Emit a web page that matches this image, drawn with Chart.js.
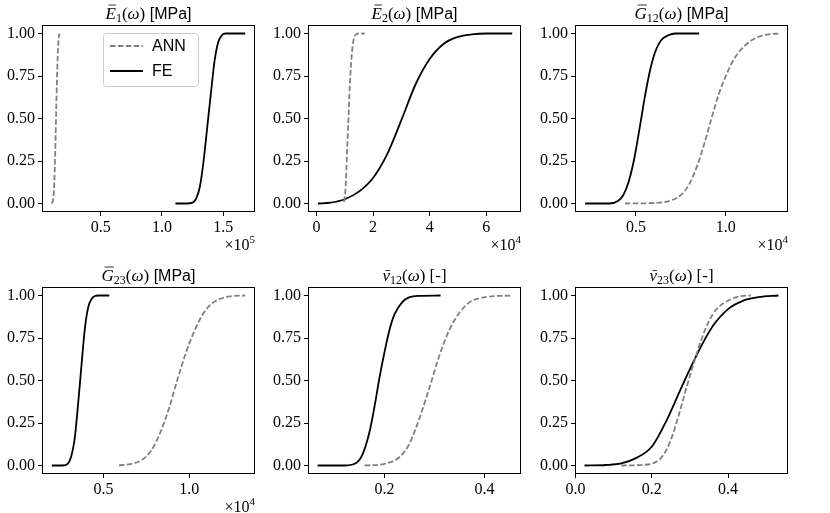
<!DOCTYPE html>
<html>
<head>
<meta charset="utf-8">
<script src="https://cdn.jsdelivr.net/npm/chart.js@4.4.1/dist/chart.umd.min.js"></script>
<style>
    html, body { margin: 0; padding: 0; background: #fff; overflow: hidden; }
    #wrap { position: relative; width: 830px; height: 513px; }
    #wrap canvas { position: absolute; }
</style>
</head>
<body>
<div id="wrap"></div>
<script>
// ---- data ----
const yTicks = [0, 0.25, 0.5, 0.75, 1.0];
const yTickLabels = ["0.00", "0.25", "0.50", "0.75", "1.00"];

// E1
const e1AnnX = [10000, 11000, 11800, 12400, 13000, 13600, 14200, 14800, 15500, 16200];
const e1AnnY = [0, 0.02, 0.08, 0.2, 0.36, 0.55, 0.72, 0.86, 0.96, 1.0];
const e1FeX = [111000, 120000, 125000, 128000, 131000, 134000, 137000, 140000, 143000, 146000, 149000, 152000, 168000];
const e1FeY = [0, 0, 0.005, 0.03, 0.10, 0.25, 0.45, 0.65, 0.84, 0.95, 0.99, 1.0, 1.0];
const e1Ticks = [50000, 100000, 150000];
const e1TickLabels = ["0.5", "1.0", "1.5"];

// E2
const e2AnnX = [9800, 10300, 10800, 11300, 11800, 12500, 13200, 14000, 15000, 17000];
const e2AnnY = [0.01, 0.10, 0.30, 0.50, 0.70, 0.88, 0.97, 0.995, 1.0, 1.0];
const e2FeX = [500, 5000, 10000, 15000, 20000, 25000, 30000, 35000, 40000, 45000, 50000, 55000, 60000, 69200];
const e2FeY = [0, 0.005, 0.025, 0.07, 0.15, 0.29, 0.49, 0.70, 0.85, 0.94, 0.98, 0.995, 1.0, 1.0];
const e2Ticks = [0, 20000, 40000, 60000];
const e2TickLabels = ["0", "2", "4", "6"];

// G12
const g12AnnX = [4390, 6000, 7000, 7600, 8000, 8400, 8800, 9200, 9600, 10000, 10400, 10800, 11300, 11800, 12400, 12940];
const g12AnnY = [0, 0.003, 0.02, 0.06, 0.12, 0.22, 0.35, 0.50, 0.64, 0.75, 0.84, 0.90, 0.95, 0.98, 0.995, 1.0];
const g12FeX = [2170, 3500, 4000, 4300, 4600, 4900, 5200, 5500, 5800, 6100, 6400, 6800, 7200, 8520];
const g12FeY = [0, 0, 0.015, 0.05, 0.13, 0.26, 0.44, 0.63, 0.79, 0.90, 0.96, 0.99, 1.0, 1.0];
const g12Ticks = [5000, 10000];
const g12TickLabels = ["0.5", "1.0"];

// G23
const g23AnnX = [5900, 6600, 7200, 7800, 8300, 8800, 9300, 9800, 10300, 10800, 11300, 11800, 12400, 13280];
const g23AnnY = [0, 0.01, 0.03, 0.09, 0.19, 0.33, 0.50, 0.66, 0.79, 0.89, 0.95, 0.98, 0.995, 1.0];
const g23FeX = [1970, 2600, 2900, 3100, 3300, 3500, 3700, 3900, 4100, 4300, 4500, 4700, 5330];
const g23FeY = [0, 0, 0.01, 0.05, 0.15, 0.35, 0.58, 0.80, 0.93, 0.98, 0.997, 1.0, 1.0];
const g23Ticks = [5000, 10000];
const g23TickLabels = ["0.5", "1.0"];

// nu12
const nu12AnnX = [0.16, 0.20, 0.23, 0.25, 0.27, 0.29, 0.31, 0.33, 0.35, 0.37, 0.40, 0.454];
const nu12AnnY = [0, 0.01, 0.05, 0.13, 0.28, 0.46, 0.65, 0.80, 0.90, 0.96, 0.99, 1.0];
const nu12FeX = [0.066, 0.12, 0.14, 0.155, 0.17, 0.18, 0.19, 0.20, 0.21, 0.22, 0.235, 0.25, 0.27, 0.312];
const nu12FeY = [0, 0, 0.01, 0.06, 0.20, 0.35, 0.52, 0.67, 0.80, 0.89, 0.96, 0.99, 0.998, 1.0];
const nu12Ticks = [0.2, 0.4];
const nu12TickLabels = ["0.2", "0.4"];

// nu23
const nu23AnnX = [0.12, 0.18, 0.21, 0.23, 0.25, 0.27, 0.29, 0.31, 0.33, 0.35, 0.37, 0.40, 0.43, 0.46];
const nu23AnnY = [0, 0.004, 0.02, 0.06, 0.15, 0.29, 0.45, 0.60, 0.74, 0.85, 0.92, 0.97, 0.995, 1.0];
const nu23FeX = [0.024, 0.08, 0.12, 0.16, 0.20, 0.24, 0.28, 0.32, 0.36, 0.40, 0.44, 0.48, 0.532];
const nu23FeY = [0, 0.003, 0.012, 0.045, 0.11, 0.27, 0.47, 0.66, 0.82, 0.92, 0.97, 0.99, 1.0];
const nu23Ticks = [0.0, 0.2, 0.4];
const nu23TickLabels = ["0.0", "0.2", "0.4"];

// ---- layout ----
const FRAME_W = 213;
const FRAME_H = 187;
const PAD_L = 42;
const PAD_T = 25;
const PAD_R = 30;
const PAD_B = 45;

const SERIF = '"Liberation Serif", "DejaVu Serif", serif';
const SANS = '"Liberation Sans", "DejaVu Sans", sans-serif';

const panels = [
    { left: 42, top: 25, xMin: 2000, xMax: 176000, ticks: e1Ticks, tickLabels: e1TickLabels, exp: "5",
      sym: "E", sub: "1", unit: "[MPa]", unitFont: "16px " + SANS,
      annX: e1AnnX, annY: e1AnnY, feX: e1FeX, feY: e1FeY, legend: true },
    { left: 308, top: 25, xMin: -3000, xMax: 72300, ticks: e2Ticks, tickLabels: e2TickLabels, exp: "4",
      sym: "E", sub: "2", unit: "[MPa]", unitFont: "16px " + SANS,
      annX: e2AnnX, annY: e2AnnY, feX: e2FeX, feY: e2FeY },
    { left: 575, top: 25, xMin: 1610, xMax: 13460, ticks: g12Ticks, tickLabels: g12TickLabels, exp: "4",
      sym: "G", sub: "12", unit: "[MPa]", unitFont: "16px " + SANS,
      annX: g12AnnX, annY: g12AnnY, feX: g12FeX, feY: g12FeY },
    { left: 42, top: 287, xMin: 1400, xMax: 13850, ticks: g23Ticks, tickLabels: g23TickLabels, exp: "4",
      sym: "G", sub: "23", unit: "[MPa]", unitFont: "16px " + SANS,
      annX: g23AnnX, annY: g23AnnY, feX: g23FeX, feY: g23FeY },
    { left: 308, top: 287, xMin: 0.0467, xMax: 0.473, ticks: nu12Ticks, tickLabels: nu12TickLabels, exp: null,
      sym: "ν", sub: "12", unit: "[-]", unitFont: "17px " + SERIF,
      annX: nu12AnnX, annY: nu12AnnY, feX: nu12FeX, feY: nu12FeY },
    { left: 575, top: 287, xMin: -0.001, xMax: 0.557, ticks: nu23Ticks, tickLabels: nu23TickLabels, exp: null,
      sym: "ν", sub: "23", unit: "[-]", unitFont: "17px " + SERIF,
      annX: nu23AnnX, annY: nu23AnnY, feX: nu23FeX, feY: nu23FeY },
];

function toPoints(xs, ys) {
    return xs.map((x, i) => ({ x: x, y: ys[i] }));
}

function drawTitle(ctx, p, cx, baseY) {
    const parts = [
        { t: p.sym, font: "italic 17px " + SERIF, bar: true },
        { t: p.sub, font: "12px " + SERIF, dy: 3 },
        { t: "(", font: "17px " + SERIF },
        { t: "ω", font: "italic 17px " + SERIF },
        { t: ")", font: "17px " + SERIF },
        { t: " " + p.unit, font: p.unitFont },
    ];
    let total = 0;
    for (const part of parts) {
        ctx.font = part.font;
        part.w = ctx.measureText(part.t).width;
        total += part.w;
    }
    let x = cx - total / 2;
    ctx.fillStyle = "#000";
    ctx.textBaseline = "alphabetic";
    ctx.textAlign = "left";
    for (const part of parts) {
        ctx.font = part.font;
        ctx.fillText(part.t, x, baseY + (part.dy || 0));
        if (part.bar) {
            const top = p.sym === "ν" ? baseY - 10.5 : baseY - 14;
            ctx.beginPath();
            ctx.lineWidth = 0.8;
            ctx.strokeStyle = "#000";
            ctx.moveTo(x + 3, top);
            ctx.lineTo(x + part.w, top);
            ctx.stroke();
        }
        x += part.w;
    }
}

function drawOffset(ctx, exp, right, baseY) {
    ctx.fillStyle = "#000";
    ctx.textBaseline = "alphabetic";
    ctx.textAlign = "right";
    ctx.font = "11px " + SERIF;
    const supW = ctx.measureText(exp).width;
    ctx.fillText(exp, right, baseY - 7);
    ctx.font = "16px " + SERIF;
    ctx.fillText("×10", right - supW, baseY);
}

function drawLegend(ctx, chart, a) {
    const x0 = a.left + 61;
    const y0 = a.top + 8;
    const w = 95;
    const h = 53;
    ctx.beginPath();
    ctx.roundRect(x0 + 0.5, y0 + 0.5, w, h, 3);
    ctx.fillStyle = "rgba(255,255,255,0.8)";
    ctx.fill();
    ctx.strokeStyle = "#cccccc";
    ctx.lineWidth = 1;
    ctx.stroke();

    chart.data.datasets.forEach((ds, i) => {
        const y = y0 + 13 + i * 25;
        ctx.beginPath();
        ctx.strokeStyle = ds.borderColor;
        ctx.lineWidth = ds.borderWidth;
        ctx.setLineDash(ds.borderDash || []);
        ctx.moveTo(x0 + 7, y);
        ctx.lineTo(x0 + 40, y);
        ctx.stroke();
        ctx.setLineDash([]);
        ctx.fillStyle = "#000";
        ctx.font = "16px " + SANS;
        ctx.textAlign = "left";
        ctx.textBaseline = "middle";
        ctx.fillText(ds.label, x0 + 49, y + 1);
    });
}

const decorPlugin = {
    id: "decor",
    afterDraw(chart, args, opts) {
        const ctx = chart.ctx;
        const a = chart.chartArea;
        const p = opts.panel;
        ctx.save();
        ctx.strokeStyle = "#000";
        ctx.lineWidth = 1;
        ctx.strokeRect(Math.round(a.left) + 0.5, Math.round(a.top) + 0.5,
                       Math.round(a.right - a.left) - 1, Math.round(a.bottom - a.top) - 1);
        drawTitle(ctx, p, (a.left + a.right) / 2, a.top - 6);
        if (p.exp) drawOffset(ctx, p.exp, a.right, a.bottom + 38);
        if (p.legend) drawLegend(ctx, chart, a);
        ctx.restore();
    },
};

function makeChart(p) {
    const wrap = document.getElementById("wrap");
    const canvas = document.createElement("canvas");
    const w = PAD_L + FRAME_W + PAD_R;
    const h = PAD_T + FRAME_H + PAD_B;
    canvas.width = w;
    canvas.height = h;
    canvas.style.width = w + "px";
    canvas.style.height = h + "px";
    canvas.style.left = (p.left - PAD_L) + "px";
    canvas.style.top = (p.top - PAD_T) + "px";
    wrap.appendChild(canvas);

    const tickFont = { family: SERIF, size: 16 };

    return new Chart(canvas, {
        type: "line",
        data: {
            datasets: [
                {
                    label: "ANN",
                    data: toPoints(p.annX, p.annY),
                    borderColor: "#808080",
                    borderDash: [5.5, 2.4],
                    borderWidth: 1.8,
                    pointRadius: 0,
                    fill: false,
                    cubicInterpolationMode: "monotone",
                },
                {
                    label: "FE",
                    data: toPoints(p.feX, p.feY),
                    borderColor: "#000000",
                    borderWidth: 1.8,
                    pointRadius: 0,
                    fill: false,
                    cubicInterpolationMode: "monotone",
                },
            ],
        },
        options: {
            responsive: false,
            animation: false,
            events: [],
            layout: { padding: { top: PAD_T, right: PAD_R, left: 0, bottom: 0 } },
            plugins: {
                legend: { display: false },
                title: { display: false },
                tooltip: { enabled: false },
                decor: { panel: p },
            },
            scales: {
                x: {
                    type: "linear",
                    min: p.xMin,
                    max: p.xMax,
                    afterFit: (scale) => { scale.height = PAD_B; },
                    afterBuildTicks: (scale) => { scale.ticks = p.ticks.map((v) => ({ value: v })); },
                    ticks: {
                        callback: (v, i) => p.tickLabels[i],
                        font: tickFont,
                        color: "#000",
                        padding: 2,
                        maxRotation: 0,
                        autoSkip: false,
                    },
                    grid: { drawOnChartArea: false, tickLength: 4, color: "#000", lineWidth: 1 },
                    border: { display: false },
                },
                y: {
                    type: "linear",
                    min: -0.05,
                    max: 1.05,
                    afterFit: (scale) => { scale.width = PAD_L; },
                    afterBuildTicks: (scale) => { scale.ticks = yTicks.map((v) => ({ value: v })); },
                    ticks: {
                        callback: (v, i) => yTickLabels[i],
                        font: tickFont,
                        color: "#000",
                        padding: 3,
                        autoSkip: false,
                    },
                    grid: { drawOnChartArea: false, tickLength: 4, color: "#000", lineWidth: 1 },
                    border: { display: false },
                },
            },
        },
        plugins: [decorPlugin],
    });
}

panels.forEach(makeChart);
</script>
</body>
</html>
